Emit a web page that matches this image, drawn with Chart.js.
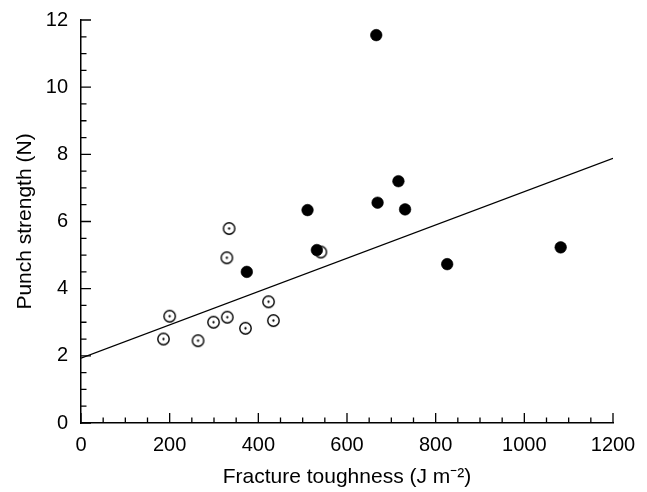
<!DOCTYPE html>
<html lang="en">
<head>
<meta charset="UTF-8">
<title>Punch strength vs fracture toughness</title>
<script src="https://cdn.jsdelivr.net/npm/chart.js"></script>
<style>
  html, body { margin: 0; padding: 0; background: #fff; }
</style>
</head>
<body>
<canvas id="chart" width="647" height="492"></canvas>
<script>
// values
const filledX = [666, 716, 669, 731, 511, 532, 374, 826, 1082];
const filledY = [11.55, 7.2, 6.56, 6.36, 6.34, 5.15, 4.5, 4.73, 5.23];
const openX = [334, 329, 541, 200, 186, 264, 299, 330, 371, 423, 434];
const openY = [5.79, 4.92, 5.09, 3.18, 2.5, 2.45, 3.0, 3.15, 2.82, 3.61, 3.05];
const fitX = [0, 1200];
const fitY = [1.93, 7.88];
const xMajor = 200, xMinor = 50;
const yMajor = 2, yMinor = 0.5;

const pts = (xs, ys) => xs.map((v, i) => ({ x: v, y: ys[i] }));

// open circle with a centre dot
function dotCircle() {
    const c = document.createElement('canvas');
    c.width = 15; c.height = 15;
    const g = c.getContext('2d');
    g.beginPath();
    g.arc(7.5, 7.5, 5.7, 0, Math.PI * 2);
    g.fillStyle = '#fff';
    g.fill();
    g.lineWidth = 1.4;
    g.strokeStyle = '#000';
    g.stroke();
    g.beginPath();
    g.arc(7.5, 7.5, 1.15, 0, Math.PI * 2);
    g.fillStyle = '#000';
    g.fill();
    return c;
}

// tick marks pointing into the plot, long on majors
const innerTicks = {
    id: 'innerTicks',
    afterDraw(chart) {
        const ctx = chart.ctx;
        const xs = chart.scales.x, ys = chart.scales.y;
        const isMajor = (v, m) => Math.abs(v / m - Math.round(v / m)) < 1e-6;
        ctx.save();
        ctx.strokeStyle = '#000';
        ctx.lineWidth = 1.3;
        ctx.beginPath();
        xs.ticks.forEach(t => {
            const px = xs.getPixelForValue(t.value);
            const len = isMajor(t.value, xMajor) ? 10 : 5.5;
            ctx.moveTo(px, xs.top);
            ctx.lineTo(px, xs.top - len);
        });
        ys.ticks.forEach(t => {
            const py = ys.getPixelForValue(t.value);
            const len = isMajor(t.value, yMajor) ? 10 : 5.5;
            ctx.moveTo(ys.right, py);
            ctx.lineTo(ys.right + len, py);
        });
        ctx.stroke();
        ctx.restore();
    }
};

Chart.defaults.color = '#000';
Chart.defaults.font.family = "'Liberation Sans', Arial, sans-serif";

new Chart(document.getElementById('chart'), {
    type: 'scatter',
    data: {
        datasets: [
            {
                data: pts(filledX, filledY),
                pointStyle: 'circle',
                pointRadius: 5.8,
                backgroundColor: '#000',
                borderColor: '#000',
                borderWidth: 0.6
            },
            {
                data: pts(openX, openY),
                pointStyle: dotCircle()
            },
            {
                type: 'line',
                data: pts(fitX, fitY),
                borderColor: '#000',
                borderWidth: 1.4,
                pointRadius: 0,
                fill: false
            }
        ]
    },
    options: {
        responsive: false,
        animation: false,
        layout: { padding: { top: 20, right: 34, left: 0, bottom: 0 } },
        plugins: { legend: { display: false }, tooltip: { enabled: false } },
        scales: {
            x: {
                min: 0, max: 1200,
                afterFit: s => { s.height = 69; s.paddingLeft = 0; s.paddingRight = 0; },
                grid: { drawOnChartArea: false, drawTicks: false },
                border: { color: '#000', width: 1.5 },
                ticks: {
                    stepSize: xMinor, autoSkip: false, maxTicksLimit: 100, maxRotation: 0,
                    padding: 10,
                    font: { size: 20 },
                    callback: v => (v % xMajor === 0 ? v : '')
                },
                title: {
                    display: true,
                    text: 'Fracture toughness (J m⁻²)',
                    font: { size: 21 },
                    padding: { top: 0, bottom: 2 }
                }
            },
            y: {
                min: 0, max: 12,
                afterFit: s => { s.width = 81; s.paddingTop = 0; s.paddingBottom = 0; },
                grid: { drawOnChartArea: false, drawTicks: false },
                border: { color: '#000', width: 1.5 },
                ticks: {
                    stepSize: yMinor, autoSkip: false, maxTicksLimit: 100,
                    padding: 13,
                    font: { size: 20 },
                    callback: v => (Math.abs(v % yMajor) < 1e-6 ? v : '')
                },
                title: {
                    display: true,
                    text: 'Punch strength (N)',
                    font: { size: 21 },
                    padding: { top: 13, bottom: 0 }
                }
            }
        }
    },
    plugins: [innerTicks]
});
</script>
</body>
</html>
